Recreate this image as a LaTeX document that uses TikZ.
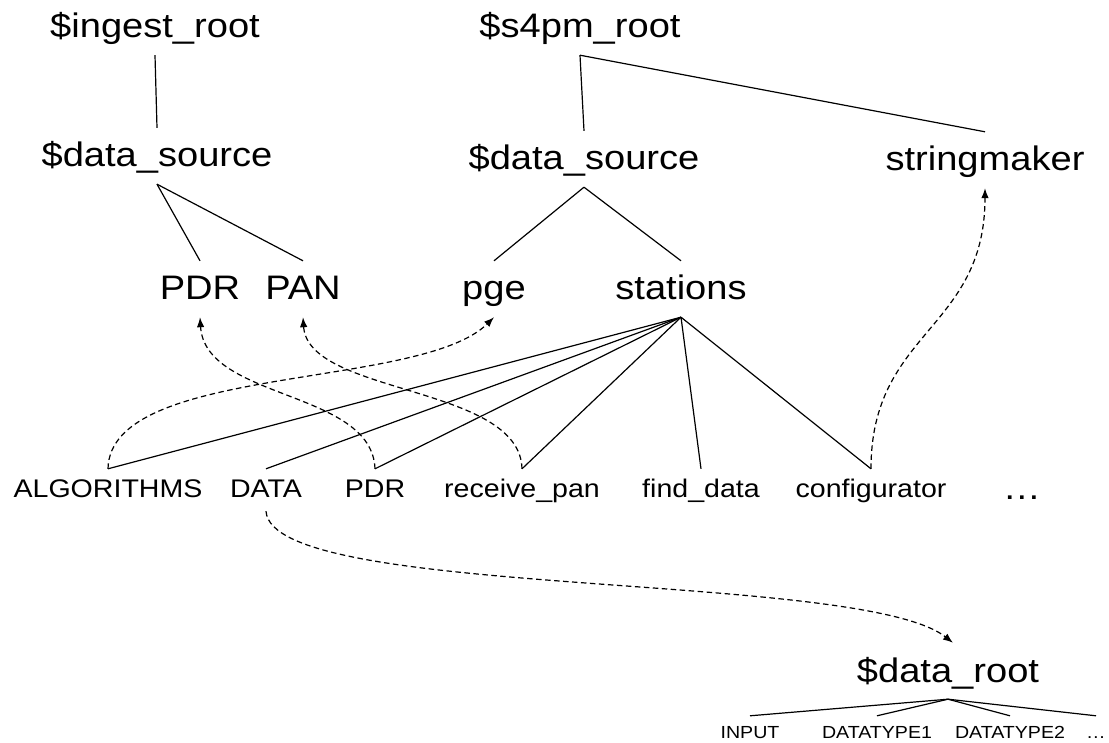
\documentclass[tikz,border=0pt]{standalone}
\usepackage{fontspec}
\setmainfont{Liberation Sans}[FakeStretch=1.12]
\usetikzlibrary{arrows.meta}
\begin{document}
\begin{tikzpicture}[x=1pt,y=-1pt,
  big/.style={anchor=base, inner sep=0pt, font=\fontsize{34}{40}\selectfont,
    text height=39pt, text depth=17pt},
  small/.style={anchor=base, inner sep=0pt, font=\fontsize{25.5}{30}\selectfont,
    text height=28pt, text depth=14pt},
  tiny/.style={anchor=base, inner sep=0pt, font=\fontsize{17.5}{21}\selectfont,
    text height=22pt, text depth=4pt},
  tree/.style={line width=1.2pt, black},
  link/.style={line width=1.2pt, black, dash pattern=on 5.5pt off 3.5pt,
    -{Latex[length=10pt,width=7.5pt]}}]
\fill[white] (0,0) rectangle (1109,743);
\useasboundingbox (0,0) rectangle (1109,743);

% roots
\node[big] (ingest) at (155,38) {\$ingest\_root};
\node[big] (s4pm)   at (580,38) {\$s4pm\_root};

% second level
\node[big] (dsA) at (157,167) {\$data\_source};
\node[big] (dsB) at (584,170) {\$data\_source};
\node[big] (smk) at (985,171) {stringmaker};

% third level
\node[big] (pdrA)     at (200,300) {PDR};
\node[big] (pan)      at (303,300) {PAN};
\node[big] (pge)      at (494,300) {pge};
\node[big] (stations) at (681,300) {stations};

% station entries
\node[small] (alg)  at (108,497) {ALGORITHMS};
\node[small] (data) at (266,497) {DATA};
\node[small] (pdrB) at (375,497) {PDR};
\node[small] (recv) at (522,497) {receive\_pan};
\node[small] (find) at (701,497) {find\_data};
\node[small] (conf) at (871,497) {configurator};
\node[big]   (more) at (1022,499) {…};

% data root
\node[big]  (droot) at (948,682) {\$data\_root};
\node[tiny] (inp)   at (750,738) {INPUT};
\node[tiny] (dt1)   at (877,738) {DATATYPE1};
\node[tiny] (dt2)   at (1010,738) {DATATYPE2};
\node[tiny] (dots)  at (1096,738) {…};

% hierarchy
\draw[tree] (ingest.south) -- (dsA.north);
\draw[tree] (s4pm.south) -- (dsB.north);
\draw[tree] (s4pm.south) -- (smk.north);
\draw[tree] (dsA.south) -- (pdrA.north);
\draw[tree] (dsA.south) -- (pan.north);
\draw[tree] (dsB.south) -- (pge.north);
\draw[tree] (dsB.south) -- (stations.north);
\foreach \n in {alg,data,pdrB,recv,find,conf}
  \draw[tree] (stations.south) -- (\n.north);
\foreach \n in {inp,dt1,dt2,dots}
  \draw[tree] (droot.south) -- (\n.north);

% links
\draw[link] (alg.north) .. controls +(2,-105) and +(-74,73) .. (pge.south);
\draw[link] (pdrB.north) .. controls +(-3,-79) and +(5,83) .. (pdrA.south);
\draw[link] (recv.north) .. controls +(-2,-84) and +(5,78) .. (pan.south);
\draw[link] (conf.north) .. controls +(0,-138) and +(0,142) .. (smk.south);
\draw[link] (data.south) .. controls +(6,89) and +(-93,-73) .. ([xshift=5pt]droot.north);
\end{tikzpicture}
\end{document}
